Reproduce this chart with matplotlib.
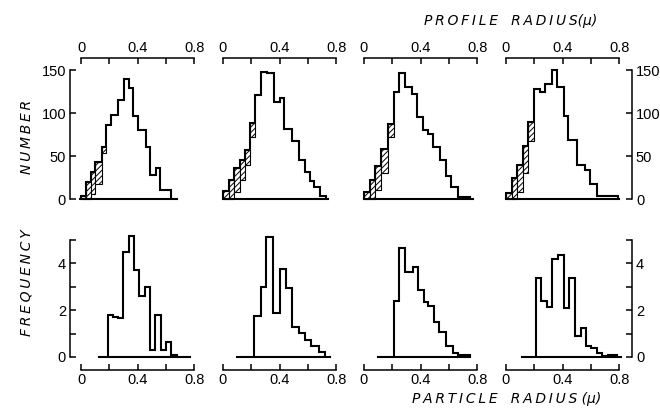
import numpy as np
import matplotlib
matplotlib.use('Agg')
import matplotlib.pyplot as plt

# ---- top row: number of profiles vs profile radius (mu) ----
top_edges = [
    [0, .035, .07, .10, .145, .18, .215, .26, .307, .34, .37, .406, .458, .488, .529, .559, .637],
    [0, .04, .08, .12, .155, .19, .228, .271, .311, .358, .405, .43, .488, .54, .578, .611, .642, .682, .724],
    [0, .04, .08, .12, .17, .21, .25, .29, .34, .375, .415, .45, .487, .54, .576, .616, .664, .746],
    [0, .04, .08, .122, .158, .198, .24, .278, .322, .362, .409, .44, .499, .558, .593, .645, .711, .793],
]
top_counts = [
    [4, 20, 32, 43, 61, 86, 98, 115, 140, 129, 96, 80, 61, 28, 36, 10],
    [9, 22, 36, 45, 57, 88, 121, 148, 147, 113, 117, 82, 68, 45, 31, 21, 14, 4],
    [8, 22, 38, 58, 87, 125, 147, 130, 122, 95, 80, 76, 61, 45, 27, 14, 2],
    [7, 25, 40, 62, 89, 128, 124, 134, 150, 130, 97, 69, 40, 34, 18, 4, 3],
]
# hatched part of the first bins (lower / upper count)
hatch_lo = [
    [0, 0, 6, 18, 53],
    [0, 0, 8, 22, 40, 72],
    [0, 0, 10, 30, 72],
    [0, 0, 8, 30, 68],
]
hatch_hi = [
    [4, 20, 32, 43, 61],
    [9, 22, 36, 45, 57, 88],
    [8, 22, 38, 58, 87],
    [7, 25, 40, 62, 89],
]
top_base = [(-0.01, 0.68), (0, 0.74), (0, 0.77), (0, 0.80)]

# ---- bottom row: frequency vs particle radius (mu) ----
bot_edges = [
    [.1875, .225, .2625, .30, .3375, .375, .4125, .45, .4875, .525, .5625, .60, .6375, .675],
    [.216, .268, .306, .353, .405, .447, .487, .534, .581, .621, .675, .722],
    [.212, .249, .289, .344, .384, .424, .454, .494, .532, .579, .626, .666, .701, .748],
    [.21, .247, .287, .323, .365, .412, .445, .487, .53, .563, .60, .64, .68, .722, .782],
]
bot_freq = [
    [1.8, 1.72, 1.65, 4.5, 5.15, 3.7, 2.6, 3.0, 0.28, 1.78, 0.28, 0.64, 0.07],
    [1.74, 2.97, 5.11, 1.86, 3.74, 2.93, 1.29, 1.03, .71, .46, .21],
    [2.41, 4.67, 3.64, 3.85, 2.88, 2.36, 2.18, 1.49, 1.05, .47, .18, .1, .1],
    [3.39, 2.41, 2.12, 4.17, 4.37, 2.08, 3.39, .91, 1.25, .47, .37, .18, .06, .08],
]
bot_base = [(.13, .77), (.097, .757), (.10, .75), (.11, .81)]

x_ticks = [0, 0.2, 0.4, 0.6, 0.8]
x_labels = ['0', '', '0.4', '', '0.8']
num_ticks = [0, 50, 100, 150]
freq_ticks = [0, 1, 2, 3, 4, 5]
freq_labels = ['0', '', '2', '', '4', '']

plt.rcParams['font.family'] = ['Liberation Sans', 'DejaVu Sans']
plt.rcParams['hatch.linewidth'] = 0.7

W, H = 660, 413
fig = plt.figure(figsize=(W / 100, H / 100), dpi=100)

x0_px = [81, 223, 364, 506]   # pixel of radius 0 in each column
px_per_x = 113.3 / 0.8
xlim = (-0.1, 0.9)
lw_line = 1.5
lw_spine = 1.1


def add_ax(x0, top_px, bot_px):
    left = x0 + xlim[0] * px_per_x
    width = (xlim[1] - xlim[0]) * px_per_x
    return fig.add_axes([left / W, 1 - bot_px / H, width / W, (bot_px - top_px) / H])


def style_axes(ax, i, row):
    for s in ax.spines.values():
        s.set_visible(False)
    xs = 'top' if row == 0 else 'bottom'
    ax.spines[xs].set_visible(True)
    ax.spines[xs].set_linewidth(lw_spine)
    ax.spines[xs].set_bounds(0, 0.8)
    ax.spines[xs].set_position(('data', 164 if row == 0 else -0.556))
    ax.xaxis.set_ticks_position(xs)
    ax.set_xticks(x_ticks)
    ax.set_xticklabels(x_labels)
    ax.tick_params(axis='x', direction='in', length=4, width=lw_spine, pad=2.5, labelsize=10.5)
    ax.set_xlim(*xlim)

    yt = num_ticks if row == 0 else freq_ticks
    ytop = 150 if row == 0 else 5
    if i == 0 or i == 3:
        side = 'left' if i == 0 else 'right'
        ax.spines[side].set_visible(True)
        ax.spines[side].set_linewidth(lw_spine)
        ax.spines[side].set_bounds(0, ytop)
        ax.spines[side].set_position(('data', -0.081 if i == 0 else 0.893))
        ax.yaxis.set_ticks_position(side)
        ax.set_yticks(yt)
        if row == 1:
            ax.set_yticklabels(freq_labels)
        ax.tick_params(axis='y', direction='in', length=4, width=lw_spine, pad=2.5, labelsize=10.5)
    else:
        ax.tick_params(axis='y', left=False, right=False, labelleft=False, labelright=False)


# top row
for i in range(4):
    ax = add_ax(x0_px[i], 51.1, 205.9)
    ax.set_ylim(-8, 172)
    e = np.array(top_edges[i])
    n = len(hatch_lo[i])
    ax.bar(e[:n], np.subtract(hatch_hi[i], hatch_lo[i]), width=np.diff(e)[:n],
           bottom=hatch_lo[i], align='edge', facecolor='white', edgecolor='k',
           hatch='//////', lw=0.8, zorder=2)
    ax.stairs(top_counts[i], e, baseline=0, fill=False, color='k', lw=lw_line, zorder=3)
    ax.plot(top_base[i], [0, 0], color='k', lw=lw_line, zorder=3)
    style_axes(ax, i, 0)

# bottom row
for i in range(4):
    ax = add_ax(x0_px[i], 230.6, 375.7)
    ax.set_ylim(-0.8, 5.4)
    ax.stairs(bot_freq[i], bot_edges[i], baseline=0, fill=False, color='k', lw=lw_line, zorder=3)
    ax.plot(bot_base[i], [0, 0], color='k', lw=lw_line, zorder=3)
    style_axes(ax, i, 1)

ts = '\u2009'
def spaced(word):
    return ts.join(word)

title_font = dict(fontsize=10, style='italic', family='DejaVu Sans')
fig.text(511 / W, 1 - 21 / H, spaced('PROFILE') + '   ' + spaced('RADIUS') + '(\u03bc)',
         ha='center', va='center', **title_font)
fig.text(507 / W, 1 - 399 / H, spaced('PARTICLE') + '   ' + spaced('RADIUS') + ' (\u03bc)',
         ha='center', va='center', **title_font)
fig.text(27 / W, 1 - 137 / H, spaced('NUMBER'), rotation=90,
         ha='center', va='center', **title_font)
fig.text(27 / W, 1 - 283 / H, spaced('FREQUENCY'), rotation=90,
         ha='center', va='center', **title_font)

fig.savefig('out.png', dpi=100)
